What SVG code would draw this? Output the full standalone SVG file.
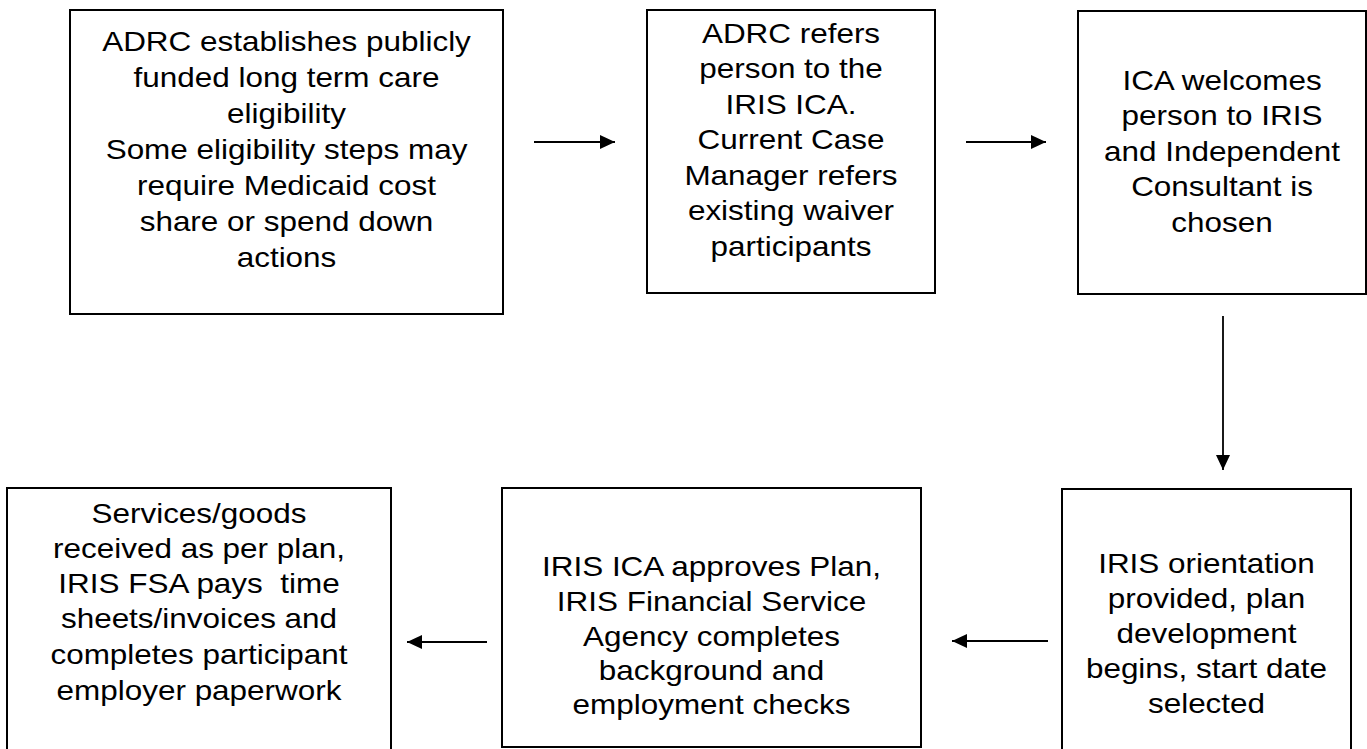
<svg xmlns="http://www.w3.org/2000/svg" width="1367" height="749" viewBox="0 0 1367 749">
<style>
.box{fill:#fff;stroke:#000;stroke-width:2}
.t{font-family:"Liberation Sans",Arial,sans-serif;font-size:27px;fill:#000;text-anchor:middle;white-space:pre}
.c{stroke:#000;stroke-width:1.8;fill:none;marker-end:url(#ah)}
</style>
<defs>
<marker id="ah" markerUnits="userSpaceOnUse" markerWidth="16" markerHeight="14" refX="15" refY="7" orient="auto">
<polygon points="0,0 15,7 0,14" fill="#000"/>
</marker>
</defs>
<rect width="1367" height="749" fill="#fff"/>
<g id="n1">
<rect class="box" x="70" y="10" width="433" height="304"/>
<g transform="translate(286.5,0) scale(1.165,1)">
<text class="t" x="0" y="51">ADRC establishes publicly</text>
<text class="t" x="0" y="87">funded long term care</text>
<text class="t" x="0" y="123">eligibility</text>
<text class="t" x="0" y="159">Some eligibility steps may</text>
<text class="t" x="0" y="195">require Medicaid cost</text>
<text class="t" x="0" y="231">share or spend down</text>
<text class="t" x="0" y="267">actions</text>
</g>
</g>
<g id="n2">
<rect class="box" x="647" y="10" width="288" height="283"/>
<g transform="translate(791,0) scale(1.165,1)">
<text class="t" x="0" y="43">ADRC refers</text>
<text class="t" x="0" y="78.5">person to the</text>
<text class="t" x="0" y="114">IRIS ICA.</text>
<text class="t" x="0" y="149.5">Current Case</text>
<text class="t" x="0" y="185">Manager refers</text>
<text class="t" x="0" y="220.5">existing waiver</text>
<text class="t" x="0" y="256">participants</text>
</g>
</g>
<g id="n3">
<rect class="box" x="1078" y="11" width="288" height="283"/>
<g transform="translate(1222,0) scale(1.165,1)">
<text class="t" x="0" y="90">ICA welcomes</text>
<text class="t" x="0" y="125.5">person to IRIS</text>
<text class="t" x="0" y="161">and Independent</text>
<text class="t" x="0" y="196.5">Consultant is</text>
<text class="t" x="0" y="232">chosen</text>
</g>
</g>
<g id="n4">
<rect class="box" x="1062" y="489" width="289" height="270"/>
<g transform="translate(1206.5,0) scale(1.165,1)">
<text class="t" x="0" y="573">IRIS orientation</text>
<text class="t" x="0" y="608">provided, plan</text>
<text class="t" x="0" y="643">development</text>
<text class="t" x="0" y="678">begins, start date</text>
<text class="t" x="0" y="713">selected</text>
</g>
</g>
<g id="n5">
<rect class="box" x="502" y="488" width="419" height="259"/>
<g transform="translate(711.5,0) scale(1.165,1)">
<text class="t" x="0" y="576">IRIS ICA approves Plan,</text>
<text class="t" x="0" y="611">IRIS Financial Service</text>
<text class="t" x="0" y="646">Agency completes</text>
<text class="t" x="0" y="680">background and</text>
<text class="t" x="0" y="714">employment checks</text>
</g>
</g>
<g id="n6">
<rect class="box" x="7" y="488" width="384" height="270"/>
<g transform="translate(199,0) scale(1.165,1)">
<text class="t" x="0" y="523">Services/goods</text>
<text class="t" x="0" y="558">received as per plan,</text>
<text class="t" x="0" y="593">IRIS FSA pays  time</text>
<text class="t" x="0" y="628">sheets/invoices and</text>
<text class="t" x="0" y="664">completes participant</text>
<text class="t" x="0" y="700">employer paperwork</text>
</g>
</g>
<g id="connectors">
<line class="c" x1="534" y1="142" x2="615" y2="142"/>
<line class="c" x1="966" y1="142" x2="1046" y2="142"/>
<line class="c" x1="1223" y1="316" x2="1223" y2="470"/>
<line class="c" x1="1048" y1="641" x2="952" y2="641"/>
<line class="c" x1="487" y1="642" x2="407" y2="642"/>
</g>
</svg>
